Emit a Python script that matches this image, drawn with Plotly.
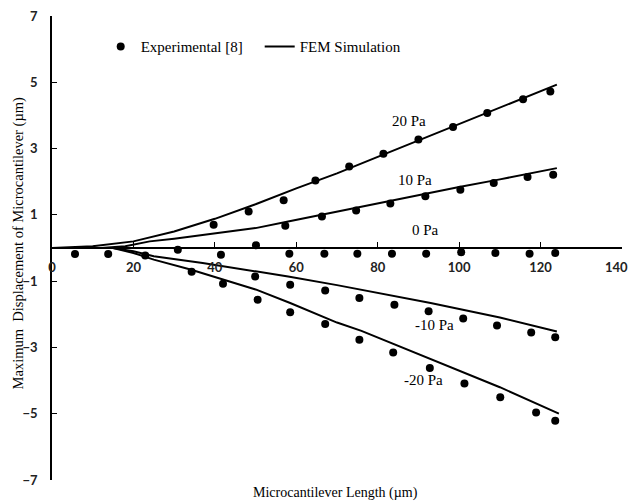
import plotly.graph_objects as go

# ---- Data ----
pressures = ["20 Pa", "10 Pa", "0 Pa", "-10 Pa", "-20 Pa"]

# FEM simulation curves
fem_x_20 = [0, 10, 20, 30, 40, 50, 60, 70, 80, 90, 100, 110, 124]
fem_y_20 = [0, 0.05, 0.2, 0.5, 0.88, 1.32, 1.8, 2.25, 2.75, 3.25, 3.75, 4.25, 4.93]

fem_x_10 = [0, 12, 18, 24, 30, 40, 50, 58, 70, 80, 90, 100, 110, 124]
fem_y_10 = [0, 0, 0.05, 0.2, 0.28, 0.43, 0.6, 0.8, 1.1, 1.35, 1.58, 1.84, 2.07, 2.41]

fem_x_0 = [0, 124]
fem_y_0 = [0, 0]

fem_x_m10 = [0, 15, 20, 25, 37, 50, 58, 70, 76, 93, 110, 124]
fem_y_m10 = [0, 0, -0.1, -0.25, -0.45, -0.7, -0.86, -1.12, -1.26, -1.66, -2.1, -2.52]

fem_x_m20 = [0, 15, 20, 25, 34, 50, 58.5, 70, 76, 93, 110, 124.5]
fem_y_m20 = [0, 0, -0.15, -0.35, -0.65, -1.25, -1.66, -2.25, -2.5, -3.35, -4.2, -5.0]

# Experimental points
exp_x_20 = [39.7, 48.3, 56.9, 64.7, 73.0, 81.4, 90.0, 98.5, 106.9, 115.7, 122.4]
exp_y_20 = [0.70, 1.10, 1.44, 2.04, 2.46, 2.84, 3.27, 3.65, 4.07, 4.49, 4.72]

exp_x_10 = [57.3, 66.3, 74.7, 83.1, 91.7, 100.3, 108.5, 116.8, 123.1]
exp_y_10 = [0.67, 0.95, 1.13, 1.34, 1.56, 1.76, 1.96, 2.14, 2.21]

exp_x_0 = [5.65, 13.8, 30.9, 41.5, 50.1, 58.3, 66.9, 75.0, 83.5, 91.9, 100.5, 108.9, 117.3, 123.6]
exp_y_0 = [-0.18, -0.18, -0.05, -0.2, 0.08, -0.17, -0.17, -0.17, -0.17, -0.17, -0.13, -0.15, -0.17, -0.15]

exp_x_m10 = [22.9, 49.9, 58.5, 67.1, 75.5, 84.1, 92.5, 101.0, 109.3, 117.7, 123.6]
exp_y_m10 = [-0.23, -0.86, -1.11, -1.28, -1.51, -1.71, -1.91, -2.13, -2.34, -2.55, -2.69]

exp_x_m20 = [34.3, 42.0, 50.5, 58.5, 67.1, 75.5, 83.8, 92.8, 101.3, 110.1, 118.9, 123.6]
exp_y_m20 = [-0.72, -1.08, -1.56, -1.94, -2.29, -2.77, -3.15, -3.62, -4.09, -4.50, -4.96, -5.21]

# Curve label anchor positions (data coords)
label_x = [87.6, 89.2, 91.7, 93.9, 91.3]
label_y = [3.82, 2.06, 0.53, -2.31, -3.97]

x_ticks = [0, 20, 40, 60, 80, 100, 120, 140]
x_tick_labels = ["0", "20", "40", "60", "80", "100", "120", ""]  # last one placed at edge below
last_x_label = "140"
y_ticks = [7, 5, 3, 1, -1, -3, -5, -7]

serif = "Liberation Serif"

fem_sets = [(fem_x_20, fem_y_20), (fem_x_10, fem_y_10), (fem_x_0, fem_y_0),
            (fem_x_m10, fem_y_m10), (fem_x_m20, fem_y_m20)]
exp_sets = [(exp_x_20, exp_y_20), (exp_x_10, exp_y_10), (exp_x_0, exp_y_0),
            (exp_x_m10, exp_y_m10), (exp_x_m20, exp_y_m20)]

fig = go.Figure()

for i, (ex, ey) in enumerate(exp_sets):
    fig.add_trace(go.Scatter(
        x=ex, y=ey, mode="markers", name="Experimental [8]",
        legendgroup="exp", showlegend=(i == 0),
        marker=dict(color="black", size=8),
    ))
for i, (fx, fy) in enumerate(fem_sets):
    fig.add_trace(go.Scatter(
        x=fx, y=fy, mode="lines", name="FEM Simulation",
        legendgroup="fem", showlegend=(i == 0),
        line=dict(color="black", width=2),
    ))

for txt, lx, ly in zip(pressures, label_x, label_y):
    fig.add_annotation(x=lx, y=ly, text=txt, showarrow=False,
                       font=dict(family=serif, size=15, color="black"),
                       xanchor="center", yanchor="middle")

tickfont = dict(family="Lato", size=13, color="#222222", weight="bold")

# Last x tick label, kept inside the page at the right edge
fig.add_annotation(xref="paper", yref="paper", x=1.0135, y=0.4597,
                   text=last_x_label, showarrow=False, font=tickfont,
                   xanchor="right", yanchor="middle")

# Axis titles
fig.add_annotation(xref="paper", yref="paper", x=0.498, y=-0.0287,
                   text="Microcantilever Length (\u00b5m)", showarrow=False,
                   font=dict(family=serif, size=14, color="black"),
                   xanchor="center", yanchor="middle")
fig.add_annotation(xref="paper", yref="paper", x=-0.0588, y=0.511,
                   text="Maximum  Displacement of Microcantilever (\u00b5m)",
                   showarrow=False, textangle=-90,
                   font=dict(family=serif, size=14.5, color="black"),
                   xanchor="center", yanchor="middle")

fig.update_layout(
    width=630, height=502,
    margin=dict(l=52, r=8, t=16, b=22, autoexpand=False),
    paper_bgcolor="white", plot_bgcolor="white",
    showlegend=True,
    legend=dict(orientation="h", x=(100.7 - 52) / 570, xanchor="left",
                y=(480 - 46.7) / 464, yanchor="middle",
                font=dict(family=serif, size=15, color="black"),
                bgcolor="rgba(0,0,0,0)", entrywidth=114, entrywidthmode="pixels",
                itemwidth=30),
    xaxis=dict(range=[0, 140], tickvals=x_ticks, ticktext=x_tick_labels,
               ticks="inside", ticklen=5,
               tickcolor="black", tickwidth=1.3,
               showline=True, linecolor="black", linewidth=1.5,
               showgrid=False, zeroline=False, anchor="free", position=0.5,
               tickfont=tickfont, ticklabelstandoff=8, ticklabeloverflow="allow",
               automargin=False),
    yaxis=dict(range=[-7, 7], tickvals=y_ticks, ticks="inside", ticklen=5,
               tickcolor="black", tickwidth=1.3,
               showline=True, linecolor="black", linewidth=1.5,
               showgrid=False, zeroline=False, tickfont=tickfont,
               ticklabelstandoff=10, ticklabeloverflow="allow",
               automargin=False),
)

fig.write_html("out.html")
